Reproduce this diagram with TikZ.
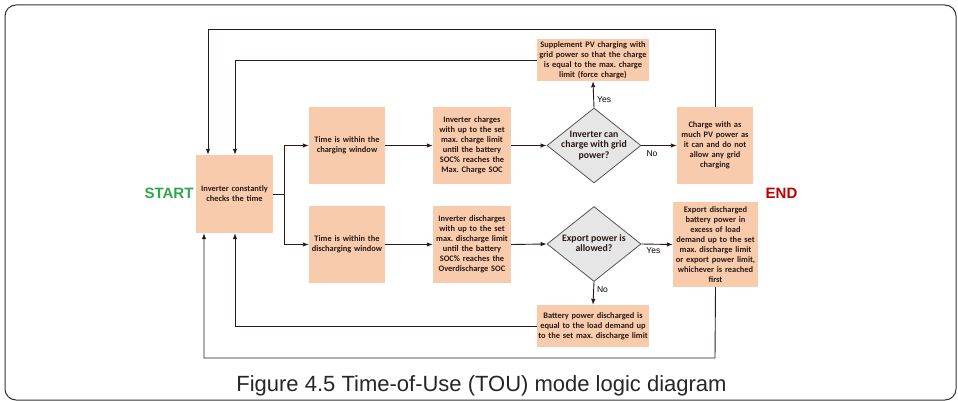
\documentclass[tikz,border=0pt]{standalone}
\usepackage{fontspec}
\setmainfont{Liberation Sans}
\newfontfamily\boxfont{Carlito}
\usetikzlibrary{shapes.geometric,arrows.meta}
\definecolor{peach}{HTML}{F8CBAD}
\definecolor{boxtext}{HTML}{2A1A14}
\definecolor{linec}{HTML}{2A1A17}
\definecolor{diafill}{HTML}{E6E6E6}
\definecolor{diadraw}{HTML}{555555}
\definecolor{startgreen}{HTML}{2EA84A}
\definecolor{endred}{HTML}{C00000}
\tikzset{
  pbox/.style={rectangle, fill=peach, inner sep=1pt, align=center,
    font=\boxfont\bfseries\fontsize{8.4}{10}\selectfont, text=boxtext},
  dia/.style={diamond, fill=diafill, draw=diadraw, line width=0.8pt, inner sep=0pt,
    aspect=1.25, minimum width=94pt, minimum height=75pt},
  diatext/.style={inner sep=0pt, align=center, font=\boxfont\bfseries\fontsize{9.8}{10.5}\selectfont, text=boxtext},
  conn/.style={draw=linec, line width=0.9pt},
  arr/.style={conn, -{Latex[length=6pt,width=4.5pt]}},
  lbl/.style={font=\fontsize{8.5}{9}\selectfont, text=black, inner sep=0pt},
}
\begin{document}
\frenchspacing
\begin{tikzpicture}[x=1pt,y=-1pt]
\useasboundingbox (0,0) rectangle (958,401);
\draw[line width=1pt, color=black!80, rounded corners=11pt] (5,5) rectangle (956,400);

% nodes
\node[pbox, minimum width=77pt, minimum height=78pt, text width=75pt] (inv) at (234.5,194) {Inverter constantly\\checks the time};
\node[pbox, minimum width=76pt, minimum height=77pt, text width=74pt] (tc) at (347,145.5) {Time is within the\\charging window};
\node[pbox, minimum width=76pt, minimum height=77pt, text width=74pt] (td) at (347,244.5) {Time is within the\\discharging window};
\node[pbox, minimum width=78pt, minimum height=77pt, text width=76pt] (ic) at (472,145.5) {Inverter charges\\with up to the set\\max. charge limit\\until the battery\\SOC\% reaches the\\Max. Charge SOC};
\node[pbox, minimum width=78pt, minimum height=77pt, text width=76pt] (id) at (472,244.5) {Inverter discharges\\with up to the set\\max. discharge limit\\until the battery\\SOC\% reaches the\\Overdischarge SOC};
\node[dia] (d1) at (594,145.5) {};
\node[diatext] (d1t) at (d1) {Inverter can\\charge with grid\\power?};
\node[dia] (d2) at (594,244) {};
\node[diatext] (d2t) at ([yshift=1pt]d2) {Export power is\\allowed?};
\node[pbox, minimum width=112pt, minimum height=42pt, text width=110pt] (sup) at (593,60) {Supplement PV charging with\\grid power so that the charge\\is equal to the max. charge\\limit (force charge)};
\node[pbox, minimum width=76pt, minimum height=77pt, text width=74pt] (cw) at (715,145.5) {Charge with as\\much PV power as\\it can and do not\\allow any grid\\charging};
\node[pbox, minimum width=85pt, minimum height=85pt, text width=83pt] (ex) at (715.5,244.5) {Export discharged\\battery power in\\excess of load\\demand up to the set\\max. discharge limit\\or export power limit,\\whichever is reached\\first};
\node[pbox, minimum width=112pt, minimum height=42pt, text width=110pt] (bat) at (593,326) {Battery power discharged is\\equal to the load demand up\\to the set max. discharge limit};

\node[font=\bfseries\fontsize{15}{15}\selectfont, text=startgreen, inner sep=0pt] (start) at (169,193) {START};
\node[font=\bfseries\fontsize{15}{15}\selectfont, text=endred, inner sep=0pt] (endn) at (781.5,193) {END};

% branch
\coordinate (br) at (284,194);
\draw[conn] (inv.east |- br) -- (br);
\draw[arr] (br) |- (tc.west);
\draw[arr] (br) |- (td.west);
\draw[arr] (tc.east) -- (ic.west);
\draw[arr] (td.east) -- (id.west);
\draw[arr] (ic.east) -- (d1.west);
\draw[arr] (id.east) -- (d2.west);
\draw[arr] (d1.east) -- (cw.west) node[lbl, pos=0.3, below=5pt] {No};
\draw[arr] (d1.north) -- (sup.south) node[lbl, pos=0.3, right=3pt] {Yes};
\draw[arr] (d2.east) -- (ex.west) node[lbl, pos=0.38, below=3pt] {Yes};
\draw[arr] (d2.south) -- (bat.south |- bat.north) node[lbl, pos=0.35, right=3pt] {No};

% feedback loops
\coordinate (ot) at (715,29);
\coordinate (it) at (235,60);
\coordinate (ib) at (235,326);
\coordinate (ob) at (715,358);
\draw[arr] (cw.north) -- (ot) -| (inv.north -| 208,0);
\draw[arr] (sup.west) -- (it) -- (inv.north -| it);
\draw[arr] (bat.west) -- (ib) -- (inv.south -| ib);
\draw[arr] (ex.south) -- (ob) -| (inv.south -| 204,0);

\node[font=\fontsize{22}{24}\selectfont, text=black!85, inner sep=0pt, anchor=base] (cap) at (481.5,391) {Figure 4.5 Time-of-Use (TOU) mode logic diagram};
\end{tikzpicture}
\end{document}
